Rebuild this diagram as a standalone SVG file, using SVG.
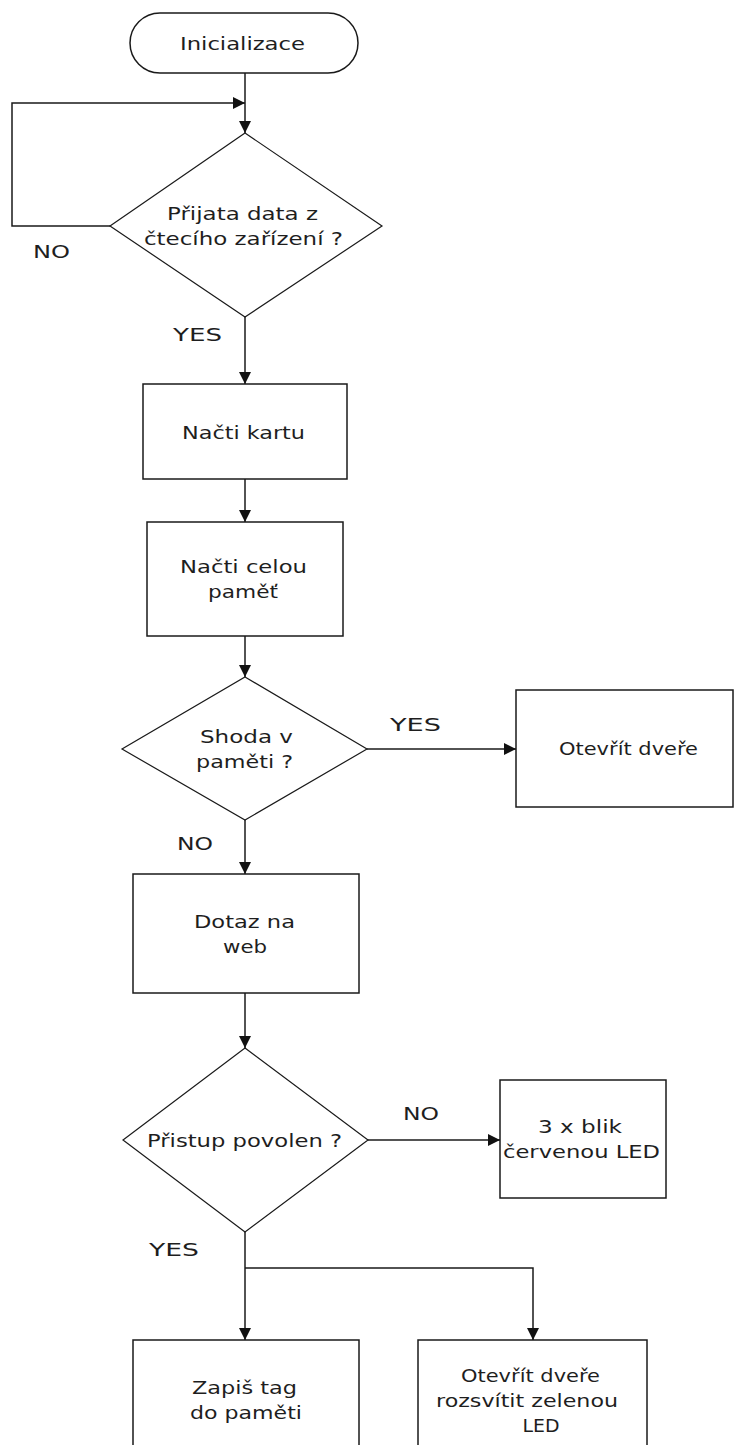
<svg xmlns="http://www.w3.org/2000/svg" width="735" height="1445" viewBox="0 0 735 1445">
<style>
.shape{fill:#fff;stroke:#1a1a1a;stroke-width:1.5}
.dia{fill:#fff;stroke:#1a1a1a;stroke-width:1.2}
.conn{fill:none;stroke:#1a1a1a;stroke-width:1.5}
text{font-family:"DejaVu Sans","Liberation Sans",sans-serif;font-size:18px;fill:#1e1e1e;text-anchor:middle}
</style>
<defs>
<marker id="ah" markerWidth="12" markerHeight="12" refX="12" refY="6" orient="auto" markerUnits="userSpaceOnUse"><path d="M0,0 L12,6 L0,12 z" fill="#111"/></marker>
</defs>
<rect width="735" height="1445" fill="#fff"/>
<g id="connectors">
<path class="conn" d="M245,73 V133" marker-end="url(#ah)"/>
<path class="conn" d="M110,226 H12 V103 H245" marker-end="url(#ah)"/>
<path class="conn" d="M245,317 V384" marker-end="url(#ah)"/>
<path class="conn" d="M245,479 V522" marker-end="url(#ah)"/>
<path class="conn" d="M245,636 V677" marker-end="url(#ah)"/>
<path class="conn" d="M367,749 H516" marker-end="url(#ah)"/>
<path class="conn" d="M245,820 V874" marker-end="url(#ah)"/>
<path class="conn" d="M245,993 V1048" marker-end="url(#ah)"/>
<path class="conn" d="M368,1140 H500" marker-end="url(#ah)"/>
<path class="conn" d="M245,1232 V1340" marker-end="url(#ah)"/>
<path class="conn" d="M245,1268 H533 V1340" marker-end="url(#ah)"/>
<text x="51.5" y="258" textLength="37" lengthAdjust="spacingAndGlyphs">NO</text>
<text x="197.5" y="341" textLength="49" lengthAdjust="spacingAndGlyphs">YES</text>
<text x="415.5" y="731" textLength="51" lengthAdjust="spacingAndGlyphs">YES</text>
<text x="195" y="850" textLength="36" lengthAdjust="spacingAndGlyphs">NO</text>
<text x="421" y="1120" textLength="36" lengthAdjust="spacingAndGlyphs">NO</text>
<text x="174" y="1256" textLength="50" lengthAdjust="spacingAndGlyphs">YES</text>
</g>
<g id="start">
<rect class="shape" x="130" y="13" width="228" height="60" rx="30" ry="30"/>
<text x="242.5" y="50" textLength="125" lengthAdjust="spacingAndGlyphs">Inicializace</text>
</g>
<g id="decision-data">
<polygon class="dia" points="245,133 382,226 245,317 110,226"/>
<text x="242.5" y="220" textLength="151" lengthAdjust="spacingAndGlyphs">Přijata data z</text>
<text x="243.5" y="245" textLength="199" lengthAdjust="spacingAndGlyphs">čtecího zařízení ?</text>
</g>
<g id="read-card">
<rect class="shape" x="143" y="384" width="204" height="95"/>
<text x="243.5" y="439" textLength="123" lengthAdjust="spacingAndGlyphs">Načti kartu</text>
</g>
<g id="read-memory">
<rect class="shape" x="147" y="522" width="196" height="114"/>
<text x="243.5" y="573" textLength="127" lengthAdjust="spacingAndGlyphs">Načti celou</text>
<text x="243" y="598" textLength="70" lengthAdjust="spacingAndGlyphs">paměť</text>
</g>
<g id="decision-match">
<polygon class="dia" points="245,677 367,749 245,820 122,749"/>
<text x="246.5" y="743" textLength="93" lengthAdjust="spacingAndGlyphs">Shoda v</text>
<text x="244.5" y="768" textLength="97" lengthAdjust="spacingAndGlyphs">paměti ?</text>
</g>
<g id="open-door">
<rect class="shape" x="516" y="690" width="217" height="117"/>
<text x="628.5" y="755" textLength="139" lengthAdjust="spacingAndGlyphs">Otevřít dveře</text>
</g>
<g id="web-query">
<rect class="shape" x="133" y="874" width="226" height="119"/>
<text x="244.5" y="928" textLength="101" lengthAdjust="spacingAndGlyphs">Dotaz na</text>
<text x="245" y="953" textLength="44" lengthAdjust="spacingAndGlyphs">web</text>
</g>
<g id="decision-access">
<polygon class="dia" points="245,1048 368,1140 245,1232 123,1140"/>
<text x="244.5" y="1147" textLength="195" lengthAdjust="spacingAndGlyphs">Přistup povolen ?</text>
</g>
<g id="red-led">
<rect class="shape" x="500" y="1080" width="166" height="118"/>
<text x="580" y="1133" textLength="84" lengthAdjust="spacingAndGlyphs">3 x blik</text>
<text x="581.5" y="1158" textLength="157" lengthAdjust="spacingAndGlyphs">červenou LED</text>
</g>
<g id="write-tag">
<rect class="shape" x="133" y="1340" width="226" height="120"/>
<text x="244.5" y="1394" textLength="105" lengthAdjust="spacingAndGlyphs">Zapiš tag</text>
<text x="246" y="1419" textLength="112" lengthAdjust="spacingAndGlyphs">do paměti</text>
</g>
<g id="open-green">
<rect class="shape" x="418" y="1340" width="229" height="120"/>
<text x="530.5" y="1382" textLength="139" lengthAdjust="spacingAndGlyphs">Otevřít dveře</text>
<text x="527" y="1407" textLength="182" lengthAdjust="spacingAndGlyphs">rozsvítit zelenou</text>
<text x="541" y="1432" textLength="37" lengthAdjust="spacingAndGlyphs">LED</text>
</g>
</svg>
